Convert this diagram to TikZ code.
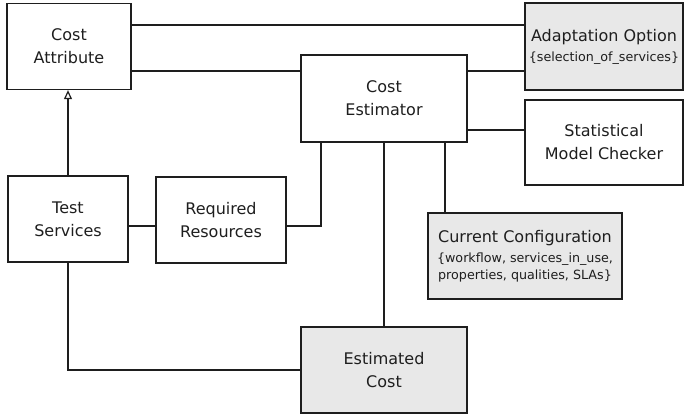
\documentclass[tikz,border=0pt]{standalone}
\usepackage{fontspec}
\setmainfont{DejaVu Sans}
\usetikzlibrary{arrows.meta}
\definecolor{boxfill}{HTML}{E8E8E8}
\definecolor{ink}{HTML}{1E1E1E}
\newcommand{\bigtxt}{\fontsize{16}{23}\selectfont}
\newcommand{\smalltxt}{\fontsize{12.7}{17}\selectfont}
\begin{document}
\begin{tikzpicture}[x=1pt,y=-1pt,
  block/.style={draw=ink,line width=1.3pt,rectangle,inner sep=0pt,
    align=center,text=ink,font=\bigtxt},
  shaded/.style={block,fill=boxfill},
  link/.style={draw=ink,line width=1.2pt}]
\useasboundingbox (0,0) rectangle (685,418);

% blocks
\node[block,minimum width=124pt,minimum height=86pt] (ca) at (69,46.5) {Cost\\Attribute};
\node[shaded,minimum width=158pt,minimum height=87pt] (ao) at (604,46.5)
  {Adaptation Option\\[-3pt]\smalltxt \{selection\_of\_services\}};
\node[block,minimum width=166pt,minimum height=87pt] (ce) at (384,98.5) {Cost\\Estimator};
\node[block,minimum width=158pt,minimum height=85pt] (smc) at (604,142.5) {Statistical\\Model Checker};
\node[block,minimum width=120pt,minimum height=86pt] (ts) at (68,219) {Test\\Services};
\node[block,minimum width=130pt,minimum height=86pt] (rr) at (221,220) {Required\\Resources};
\node[shaded,minimum width=194pt,minimum height=86pt] (cc) at (525,256)
  {Current Configuration\\[-3pt]\smalltxt \{workflow, services\_in\_use,\\[-6pt]\smalltxt properties, qualities, SLAs\}};
\node[shaded,minimum width=166pt,minimum height=86pt] (ec) at (384,370) {Estimated\\Cost};

% attachment points
\coordinate (ca0) at ([yshift=21.5pt]ca.east);
\coordinate (ca1) at ([yshift=-24.5pt]ca.east);
\coordinate (s1) at ([yshift=12.5pt]smc.west);
\coordinate (e1) at ([xshift=-63pt]ce.south);
\coordinate (e3) at ([xshift=61pt]ce.south);
\coordinate (r1) at ([yshift=-6pt]rr.east);

% connectors
\draw[link] (ca0) -- (ca0 -| ao.west);
\draw[link] (ca1) -- (ca1 -| ce.west);
\draw[link] (ca1 -| ce.east) -- (ca1 -| ao.west);
\draw[link] (s1 -| ce.east) -- (s1);
\draw[link] (e1) |- (r1);
\draw[link] (r1 -| ts.east) -- (r1 -| rr.west);
\draw[link] (ce.south) -- (ec.north);
\draw[link] (e3) -- (e3 |- cc.north);
\draw[link] (ts.south) |- (ec.west);
\draw[link,-{Triangle[open,width=8pt,length=9pt]}] (ts.north) -- (ts.north |- ca.south);
\end{tikzpicture}
\end{document}
